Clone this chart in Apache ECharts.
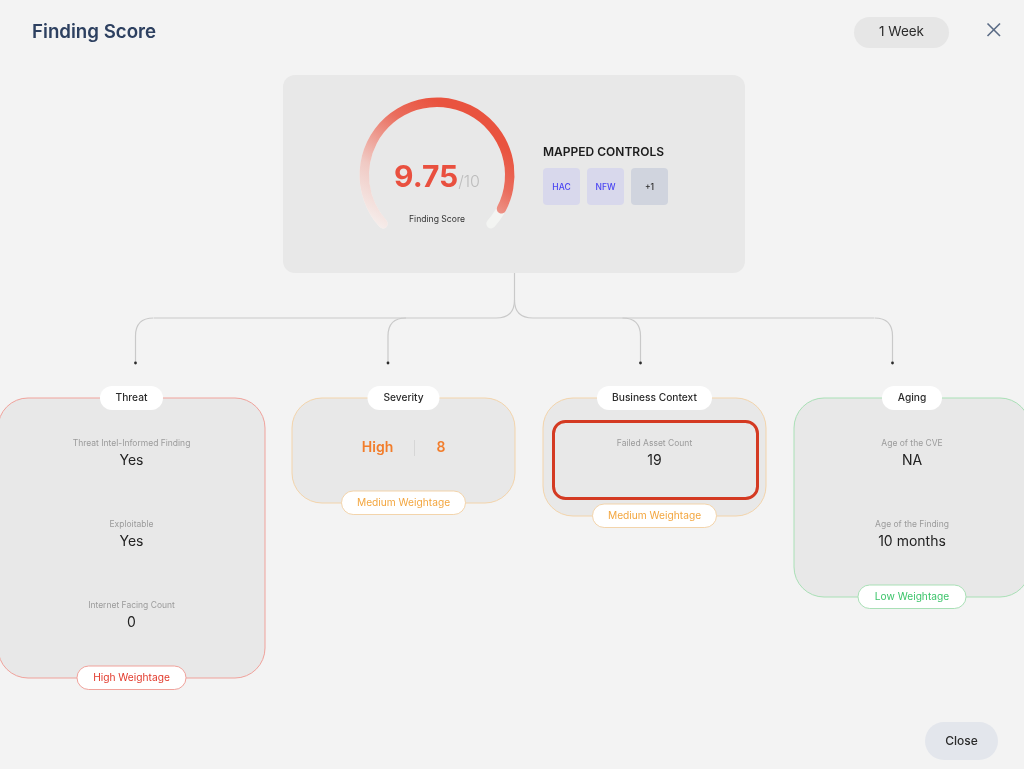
<!DOCTYPE html>
<html>
<head>
<meta charset="utf-8">
<title>Finding Score</title>
<style>
html, body { margin: 0; padding: 0; background: #f3f3f3; }
#chart { width: 1024px; height: 769px; }
</style>
<script src="https://cdn.jsdelivr.net/npm/echarts@6/dist/echarts.min.js"></script>
</head>
<body>
<div id="chart"></div>
<script>
var pageTitle = "Finding Score";
var periodLabel = "1 Week";
var closeLabel = "Close";
var scoreName = "Finding Score";
var scoreValue = 9.75;
var scoreMax = 10;
var controlsTitle = "MAPPED CONTROLS";
var controlNames = ["HAC", "NFW", "+1"];
var cardTitles = ["Threat", "Severity", "Business Context", "Aging"];
var cardWeights = ["High Weightage", "Medium Weightage", "Medium Weightage", "Low Weightage"];
var threatLabels = ["Threat Intel-Informed Finding", "Exploitable", "Internet Facing Count"];
var threatValues = ["Yes", "Yes", "0"];
var severityValues = ["High", "8"];
var businessLabels = ["Failed Asset Count"];
var businessValues = ["19"];
var agingLabels = ["Age of the CVE", "Age of the Finding"];
var agingValues = ["NA", "10 months"];

var FONT = "Inter, 'Noto Sans', sans-serif";
var els = [];

function rect (x, y, w, h, r, fill, stroke, lineWidth) {
    els.push({
        type: "rect",
        shape: { x: x, y: y, width: w, height: h, r: r },
        style: { fill: fill, stroke: stroke || null, lineWidth: lineWidth || 0 }
    });
}
function text (x, y, str, size, color, weight, align) {
    els.push({
        type: "text",
        x: x,
        y: y,
        style: {
            text: str,
            fontFamily: FONT,
            fontSize: size,
            fontWeight: weight || 400,
            fill: color,
            align: align || "center",
            verticalAlign: "middle"
        }
    });
}
function line (x1, y1, x2, y2, color, width) {
    els.push({
        type: "line",
        shape: { x1: x1, y1: y1, x2: x2, y2: y2 },
        style: { stroke: color, lineWidth: width }
    });
}
function curve (x1, y1, cx, cy, x2, y2, color, width) {
    els.push({
        type: "bezierCurve",
        shape: { x1: x1, y1: y1, cpx1: cx, cpy1: cy, x2: x2, y2: y2 },
        style: { stroke: color, lineWidth: width, fill: null }
    });
}

// 页面头部
text(32, 32, pageTitle, 18.7, "#2d4060", 600, "left");
rect(854, 17, 95, 31, 15.5, "#e6e6e6");
text(901.5, 32, periodLabel, 13.5, "#2b2b2b", 400);
line(987.5, 23.5, 1000, 36, "#5a6b85", 1.6);
line(1000, 23.5, 987.5, 36, "#5a6b85", 1.6);

// 顶部得分卡片
rect(283, 75, 462, 198, 12, "#e8e8e8");
text(543, 152, controlsTitle, 12, "#1b1b1b", 600, "left");
controlNames.forEach(function (name, i) {
    var x = 543 + i * 44;
    var plain = name.charAt(0) === "+";
    rect(x, 168, 37, 37, 4, plain ? "#d0d4de" : "#d8d8ec");
    text(x + 18.5, 187, name, 8.5, plain ? "#2b2b2b" : "#4a45f2", 500);
});

// 连接线
var LINE = "#c9c9c9";
line(514.5, 273, 514.5, 300, LINE, 1.2);
curve(514.5, 300, 514.5, 318, 496, 318, LINE, 1.2);
curve(514.5, 300, 514.5, 318, 533, 318, LINE, 1.2);
line(496, 318, 154, 318, LINE, 1.2);
line(533, 318, 874, 318, LINE, 1.2);
[[135.5, 1], [388, 1], [640.5, -1], [892.5, -1]].forEach(function (d) {
    var x = d[0], s = d[1];
    curve(x + s * 18, 318, x, 318, x, 336, LINE, 1.2);
    line(x, 336, x, 362, LINE, 1.2);
    els.push({
        type: "circle",
        shape: { cx: x, cy: 363, r: 1.4 },
        style: { fill: "#2b2b2b" }
    });
});

// 四个分类卡片
var RED = "#f0a29b", ORANGE = "#f3d4ab", GREEN = "#a9e0b6";
var cards = [
    { x: -2, w: 267, h: 280, stroke: RED, weightColor: "#e2392b", titleW: 63, weightW: 109 },
    { x: 292, w: 223, h: 105, stroke: ORANGE, weightColor: "#f3a63f", titleW: 72, weightW: 124 },
    { x: 543, w: 223, h: 118, stroke: ORANGE, weightColor: "#f3a63f", titleW: 115, weightW: 124 },
    { x: 794, w: 236, h: 199, stroke: GREEN, weightColor: "#3cc46a", titleW: 60, weightW: 108 }
];
cards.forEach(function (c, i) {
    var mid = c.x + c.w / 2;
    rect(c.x, 398, c.w, c.h, 30, "#e8e8e8", c.stroke, 1);
    rect(mid - c.titleW / 2, 386, c.titleW, 24, 12, "#ffffff");
    text(mid, 398, cardTitles[i], 10.2, "#2b2b2b", 500);
    rect(mid - c.weightW / 2, 398 + c.h - 12, c.weightW, 23.5, 11.7, "#ffffff", c.stroke, 1);
    text(mid, 398 + c.h, cardWeights[i], 10.2, c.weightColor, 400);
});
rect(553.5, 421.5, 204, 77, 12, "#e8e8e8", "#d43a22", 3);

function rows (mid, labels, values) {
    labels.forEach(function (label, i) {
        var top = 443 + i * 81;
        text(mid, top, label, 8.5, "#9b9b9b", 400);
        text(mid, top + 17.6, values[i], 14, "#222222", 400);
    });
}
rows(131.5, threatLabels, threatValues);
rows(654.5, businessLabels, businessValues);
rows(912, agingLabels, agingValues);

text(377.5, 447.5, severityValues[0], 14, "#f27d2b", 600);
line(414.5, 440, 414.5, 456, "#d6d6d6", 1);
text(441, 447.5, severityValues[1], 14, "#f27d2b", 600);

// 关闭按钮
rect(925, 722, 73, 38, 19, "#e3e6ec");
text(961.5, 741, closeLabel, 12, "#2b2b2b", 500);

var GAUGE_CENTER = [437, 175];
var chart = echarts.init(document.getElementById("chart"));
chart.setOption({
    animation: false,
    backgroundColor: "#f3f3f3",
    graphic: { elements: els },
    series: [{
        // 底部轨道
        type: "gauge",
        center: GAUGE_CENTER,
        radius: 77.5,
        startAngle: 222,
        endAngle: -42,
        pointer: { show: false },
        axisTick: { show: false },
        splitLine: { show: false },
        axisLabel: { show: false },
        title: { show: false },
        detail: { show: false },
        axisLine: {
            roundCap: true,
            lineStyle: { width: 9.5, color: [[1, "#f3f4f2"]] }
        },
        data: []
    }, {
        type: "gauge",
        center: GAUGE_CENTER,
        radius: 77.5,
        min: 0,
        max: scoreMax,
        startAngle: 222,
        endAngle: -34,
        pointer: { show: false },
        axisTick: { show: false },
        splitLine: { show: false },
        axisLabel: { show: false },
        axisLine: { show: false },
        progress: {
            show: true,
            width: 9.5,
            roundCap: true,
            itemStyle: {
                color: new echarts.graphic.LinearGradient(372, 225, 450, 110, [
                    { offset: 0, color: "#f6efed" },
                    { offset: 0.35, color: "#f0c9c3" },
                    { offset: 0.75, color: "#ea6d5d" },
                    { offset: 1, color: "#e9533f" }
                ], true)
            }
        },
        title: {
            offsetCenter: [0, 44],
            fontFamily: FONT,
            fontSize: 8.6,
            color: "#333333"
        },
        detail: {
            offsetCenter: [0, 3],
            valueAnimation: false,
            fontWeight: 400,
            formatter: function (v) {
                return "{a|" + v.toFixed(2) + "}{b|/" + scoreMax + "}";
            },
            rich: {
                a: { fontFamily: FONT, fontSize: 30, fontWeight: 700, color: "#e9503f" },
                b: { fontFamily: FONT, fontSize: 16, fontWeight: 300, color: "#bdbdbd", padding: [8, 0, 0, 0] }
            }
        },
        data: [{ value: scoreValue, name: scoreName }]
    }]
});
</script>
</body>
</html>
